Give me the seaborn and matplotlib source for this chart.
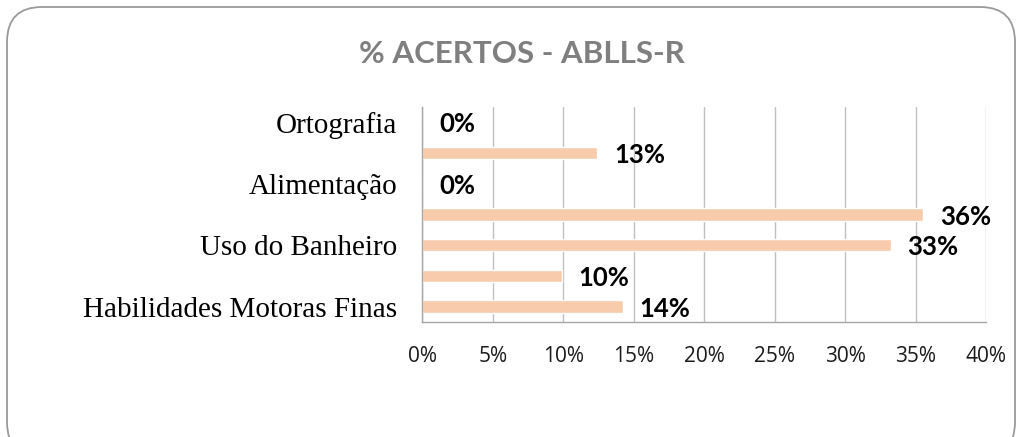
import matplotlib
matplotlib.use('Agg')
import matplotlib.pyplot as plt
import seaborn as sns
import pandas as pd
from matplotlib.patches import FancyBboxPatch
from matplotlib.transforms import IdentityTransform
from matplotlib.ticker import PercentFormatter

# dados (domínios T..Z da ABLLS-R, de cima para baixo)
categorias = ['Ortografia', 'Vestir-se', 'Alimentação', 'Arrumar-se',
              'Uso do Banheiro', 'Habilidades Motoras Grossas',
              'Habilidades Motoras Finas']
acertos = [0, 12.4, 0, 35.5, 33.2, 9.9, 14.2]
rotulos = ['0%', '13%', '0%', '36%', '33%', '10%', '14%']
ticks_x = [0, 5, 10, 15, 20, 25, 30, 35, 40]

sns.set_theme(style='white')

fig = plt.figure(figsize=(10.21, 4.37), dpi=100)
ax = fig.add_axes([0.4138, 0.2632, 0.5524, 0.4920])

df = pd.DataFrame({'categoria': categorias, 'acertos': acertos})
sns.barplot(data=df, x='acertos', y='categoria', color='#F8CBAD',
            saturation=1, width=0.41, orient='h', ax=ax)

ax.set_xlim(0, 40)
ax.set_xticks(ticks_x)
ax.xaxis.set_major_formatter(PercentFormatter(xmax=100, decimals=0))
ax.set_xlabel('')
ax.set_ylabel('')

# Excel esconde um rótulo sim, outro não
ax.set_yticks(range(len(categorias)))
ax.set_yticklabels([c if i % 2 == 0 else '' for i, c in enumerate(categorias)],
                   fontfamily='Liberation Serif', fontsize=21, color='black')
for lab in ax.get_xticklabels():
    lab.set_fontfamily('Open Sans')
ax.tick_params(axis='y', length=0, pad=18)
ax.tick_params(axis='x', length=0, pad=17, labelsize=15, labelcolor='#1a1a1a')

ax.grid(axis='x', color='#c0c0c0', linewidth=1)
ax.set_axisbelow(True)
for s in ['top', 'right']:
    ax.spines[s].set_visible(False)
for s in ['left', 'bottom']:
    ax.spines[s].set_color('#a6a6a6')
    ax.spines[s].set_linewidth(1)

for i, (v, lab) in enumerate(zip(acertos, rotulos)):
    ax.annotate(lab, xy=(v, i), xytext=(12, -1.5), textcoords='offset points',
                ha='left', va='center', fontsize=18.5, fontweight='bold',
                fontfamily='Lato', color='black', annotation_clip=False)

fig.text(522 / 1021, 1 - 54 / 437, '% ACERTOS - ABLLS-R', ha='center', va='center',
         fontsize=22.5, fontweight='bold', color='#7f7f7f', fontfamily='Lato')

# moldura arredondada do gráfico
moldura = FancyBboxPatch((7, -20), 1008, 450,
                         boxstyle='round,pad=0,rounding_size=35',
                         transform=IdentityTransform(), facecolor='none',
                         edgecolor='#9a9a9a', linewidth=1.3)
fig.add_artist(moldura)

fig.savefig('out.png', dpi=100)
